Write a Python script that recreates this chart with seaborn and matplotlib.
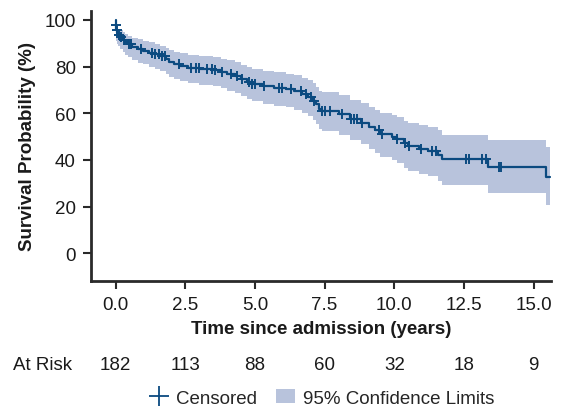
import numpy as np
import pandas as pd
import seaborn as sns
import matplotlib
matplotlib.use('Agg')
import matplotlib.pyplot as plt
import matplotlib.transforms as mtransforms
from matplotlib.lines import Line2D
from matplotlib.patches import Patch

# Kaplan-Meier steps (years, %)
step_time = [0.00, 0.01, 0.03, 0.06, 0.10, 0.15, 0.25, 0.35, 0.45, 0.60, 0.80,
             1.00, 1.20, 1.40, 1.60, 1.80, 1.90, 2.10, 2.30, 2.60, 3.00, 3.50,
             3.80, 4.00, 4.30, 4.50, 4.70, 4.90, 5.30, 5.70, 6.10, 6.40, 6.70,
             6.90, 7.10, 7.20, 7.30, 7.40, 8.00, 8.40, 8.80, 9.10, 9.30, 9.50,
             9.90, 10.10, 10.35, 10.50, 10.90, 11.20, 11.55, 11.72, 13.35, 15.45,
             15.60]
survival = [100.0, 98.0, 95.5, 94.5, 93.5, 92.5, 91.5, 90.5, 89.5, 88.5, 87.5,
            86.8, 86.0, 85.2, 84.4, 83.2, 82.0, 81.0, 80.3, 79.5, 79.0, 78.4,
            77.6, 76.8, 75.8, 74.6, 73.4, 72.6, 71.6, 71.0, 70.3, 69.4, 68.2,
            67.0, 65.4, 63.8, 62.0, 61.0, 59.6, 57.6, 56.0, 54.2, 52.6, 51.2,
            50.0, 48.8, 47.2, 46.0, 44.8, 44.0, 42.2, 40.3, 36.8, 32.7,
            32.7]
ci_lower = [100.0, 94.0, 91.0, 89.8, 88.6, 87.4, 86.2, 85.0, 83.9, 82.8, 81.7,
            80.9, 80.0, 79.1, 78.2, 76.9, 75.6, 74.5, 73.7, 72.8, 72.2, 71.5,
            70.6, 69.7, 68.6, 67.3, 66.0, 65.1, 64.0, 63.3, 62.5, 61.5, 60.2,
            58.8, 57.0, 55.3, 53.4, 52.3, 50.7, 48.5, 46.7, 44.7, 42.9, 41.3,
            39.9, 38.5, 36.7, 35.3, 33.9, 33.0, 31.0, 29.1, 25.6, 20.6,
            20.6]
ci_upper = [100.0, 99.5, 97.8, 97.0, 96.3, 95.5, 94.8, 94.0, 93.2, 92.4, 91.6,
            91.0, 90.4, 89.7, 89.0, 88.0, 87.0, 86.2, 85.6, 84.9, 84.5, 84.0,
            83.3, 82.6, 81.8, 80.7, 79.7, 79.0, 78.1, 77.6, 77.0, 76.2, 75.2,
            74.1, 72.8, 71.3, 69.7, 68.9, 67.6, 65.8, 64.4, 62.8, 61.4, 60.2,
            59.2, 58.2, 56.8, 55.8, 54.8, 54.2, 52.6, 50.6, 48.4, 45.6,
            45.6]

# censoring times (years)
censor_time = [0.01, 0.05, 0.12, 0.2, 0.3, 0.5, 0.55, 0.9, 1.32, 1.43, 1.55, 1.67,
               1.79, 2.27, 2.69, 2.87, 2.99, 3.29, 3.45, 3.55, 3.83, 4.13, 4.37,
               4.55, 4.78, 4.9, 5.02, 5.32, 5.86, 5.98, 6.28, 6.64, 6.82, 7.0,
               7.12, 7.42, 7.53, 7.71, 8.13, 8.43, 8.55, 8.67, 8.85, 9.45, 9.57,
               10.1, 10.4, 10.52, 10.94, 11.36, 11.48, 12.56, 12.68, 13.16, 13.28,
               13.75, 13.81]

tick_years = [0.0, 2.5, 5.0, 7.5, 10.0, 12.5, 15.0]
at_risk = [182, 113, 88, 60, 32, 18, 9]

line_col = '#0b4a80'
band_col = '#b8c3dc'
txt_col = '#1a1a1a'
fs = 13.5

df = pd.DataFrame({'time': step_time, 'surv': survival,
                   'lo': ci_lower, 'hi': ci_upper})
idx = np.searchsorted(df['time'].values, censor_time, side='right') - 1
cens = pd.DataFrame({'time': censor_time, 'surv': df['surv'].values[idx]})

sns.set_theme(style='ticks')
plt.rcParams['font.family'] = ['Liberation Sans', 'DejaVu Sans']

fig = plt.figure(figsize=(5.66, 4.10), dpi=100)
ax = fig.add_axes([91 / 566, 1 - 282 / 410, 460 / 566, 270 / 410])

ax.fill_between(df['time'], df['lo'], df['hi'], step='post',
                color=band_col, linewidth=0)
sns.lineplot(data=df, x='time', y='surv', drawstyle='steps-post',
             color=line_col, linewidth=1.6, ax=ax)
sns.scatterplot(data=cens, x='time', y='surv', marker='+', s=55,
                linewidth=1.4, color=line_col, ax=ax, zorder=3)

ax.set_xlim(-0.88, 15.62)
ax.set_ylim(-11.9, 103.8)
ax.set_xticks(tick_years)
ax.set_xticklabels([f'{v:.1f}' for v in tick_years])
ax.set_yticks([0, 20, 40, 60, 80, 100])
ax.tick_params(labelsize=fs, length=6, width=1.5, color='#2a2a2a',
               labelcolor=txt_col, pad=5)
for s in ['top', 'right']:
    ax.spines[s].set_visible(False)
for s in ['left', 'bottom']:
    ax.spines[s].set_linewidth(2)
    ax.spines[s].set_color('#2a2a2a')

ax.set_xlabel('Time since admission (years)', fontsize=fs, fontweight='bold',
              labelpad=5, color=txt_col)
ax.set_ylabel('Survival Probability (%)', fontsize=fs, fontweight='bold',
              labelpad=6, color=txt_col)

# number at risk row
trans = mtransforms.blended_transform_factory(ax.transData, fig.transFigure)
yrow = 1 - 366 / 410
fig.text(13 / 566, yrow, 'At Risk', fontsize=fs, va='center', ha='left',
         color=txt_col)
for t, n in zip(tick_years, at_risk):
    ax.text(t, yrow, str(n), transform=trans, fontsize=fs, ha='center',
            va='center', color=txt_col, clip_on=False)

handles = [Line2D([], [], marker='+', linestyle='none', color=line_col,
                  markersize=14, markeredgewidth=1.3),
           Patch(facecolor=band_col, edgecolor='none')]
fig.legend(handles, ['Censored', '95% Confidence Limits'], loc='center',
           bbox_to_anchor=(322 / 566, 1 - 399 / 410), ncol=2, frameon=False,
           fontsize=fs, handlelength=1.0, handletextpad=0.45,
           columnspacing=1.0, borderpad=0)

fig.savefig('out.png', dpi=100)
